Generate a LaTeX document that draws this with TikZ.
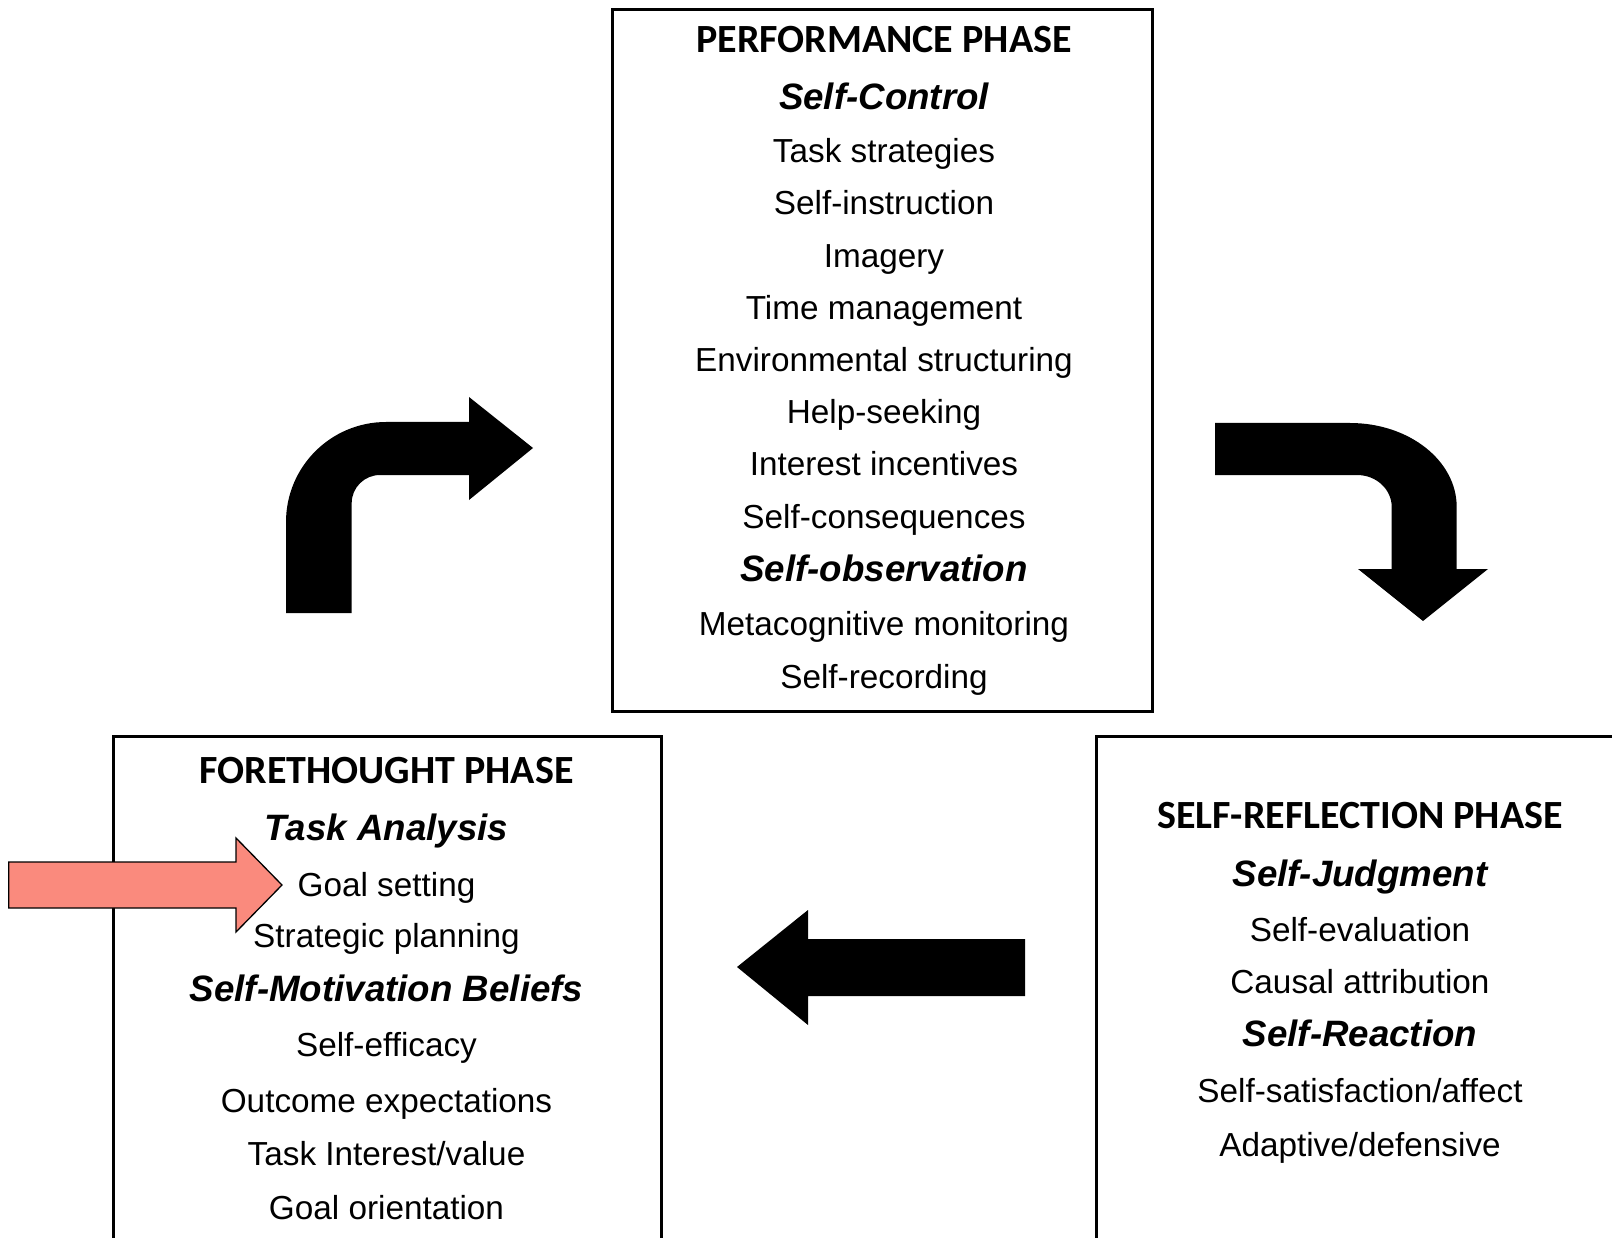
\documentclass[tikz,border=0pt]{standalone}
\usepackage{fontspec}
\setmainfont{Liberation Sans}
\newfontfamily\headfont{Carlito}
\definecolor{salmon}{RGB}{250,138,125}
\tikzset{
  phasebox/.style={draw=black,line width=3pt},
  headtxt/.style={anchor=base,inner sep=0pt,font=\headfont\bfseries\fontsize{40}{48}\selectfont},
  subtxt/.style={anchor=base,inner sep=0pt,font=\bfseries\itshape\fontsize{36.7}{44}\selectfont},
  itemtxt/.style={anchor=base,inner sep=0pt,font=\fontsize{33.3}{40}\selectfont},
  blockarrow/.style={fill=black,draw=none},
  pinkarrow/.style={fill=salmon,draw=black,line width=1.3pt,line join=miter}
}
\begin{document}
\begin{tikzpicture}[x=1pt,y=-1pt]
\useasboundingbox (0,0) rectangle (1612,1238);
\clip (0,0) rectangle (1612,1238);
\fill[white] (0,0) rectangle (1612,1238);

% boxes
\draw[phasebox] (612,10) rectangle (1152,711);
\draw[phasebox] (113,736) rectangle (661,1300);
\draw[phasebox] (1096,736) rectangle (1660,1300);

% performance phase
\node[headtxt] (pp) at (884,53) {PERFORMANCE PHASE};
\node[subtxt]  (sc) at (884,110) {Self-Control};
\node[itemtxt] (p1) at (884,163) {Task strategies};
\node[itemtxt] (p2) at (884,214.5) {Self-instruction};
\node[itemtxt] (p3) at (884,268) {Imagery};
\node[itemtxt] (p4) at (884,320) {Time management};
\node[itemtxt] (p5) at (884,372) {Environmental structuring};
\node[itemtxt] (p6) at (884,424) {Help-seeking};
\node[itemtxt] (p7) at (884,475.6) {Interest incentives};
\node[itemtxt] (p8) at (884,528) {Self-consequences};
\node[subtxt]  (so) at (884,581.5) {Self-observation};
\node[itemtxt] (p9) at (884,635) {Metacognitive monitoring};
\node[itemtxt] (p10) at (884,688) {Self-recording};

% forethought phase
\node[headtxt] (fp) at (386.5,783) {FORETHOUGHT PHASE};
\node[subtxt]  (ta) at (386.5,840.5) {Task Analysis};
\node[itemtxt] (f1) at (386.5,896) {Goal setting};
\node[itemtxt] (f2) at (386.5,947.5) {Strategic planning};
\node[subtxt]  (sm) at (386.5,1001) {Self-Motivation Beliefs};
\node[itemtxt] (f3) at (386.5,1056.5) {Self-efficacy};
\node[itemtxt] (f4) at (386.5,1112) {Outcome expectations};
\node[itemtxt] (f5) at (386.5,1165) {Task Interest/value};
\node[itemtxt] (f6) at (386.5,1219) {Goal orientation};

% self-reflection phase
\node[headtxt] (sr) at (1360,828) {SELF-REFLECTION PHASE};
\node[subtxt]  (sj) at (1360,886) {Self-Judgment};
\node[itemtxt] (r1) at (1360,941) {Self-evaluation};
\node[itemtxt] (r2) at (1360,993) {Causal attribution};
\node[subtxt]  (sre) at (1360,1046) {Self-Reaction};
\node[itemtxt] (r3) at (1360,1102) {Self-satisfaction/affect};
\node[itemtxt] (r4) at (1360,1156) {Adaptive/defensive};

% up-right bent arrow
\fill[blockarrow] (286,613) -- (286,522)
  .. controls (286,466.8) and (330.8,422) .. (386,422)
  -- (469,422) -- (469,397) -- (533,448) -- (469,500) -- (469,475)
  -- (380,475) .. controls (364.5,475) and (351.7,487.5) .. (351.7,503)
  -- (351.7,613) -- cycle;

% right-down bent arrow
\fill[blockarrow] (1215,423) -- (1350,423)
  .. controls (1409,423) and (1456.7,460.6) .. (1456.7,507)
  -- (1456.7,569) -- (1488,569) -- (1423,621) -- (1358,569) -- (1391.7,569)
  -- (1391.7,507) .. controls (1391.7,489.3) and (1376.3,475) .. (1357,475)
  -- (1215,475) -- cycle;

% left arrow
\fill[blockarrow] (1025,939) -- (808,939) -- (808,910) -- (737,967)
  -- (808,1025) -- (808,996) -- (1025,996) -- cycle;

% pink highlight arrow
\draw[pinkarrow] (8.7,862) -- (236,862) -- (236,838) -- (282,885)
  -- (236,932) -- (236,908) -- (8.7,908) -- cycle;
\end{tikzpicture}
\end{document}
